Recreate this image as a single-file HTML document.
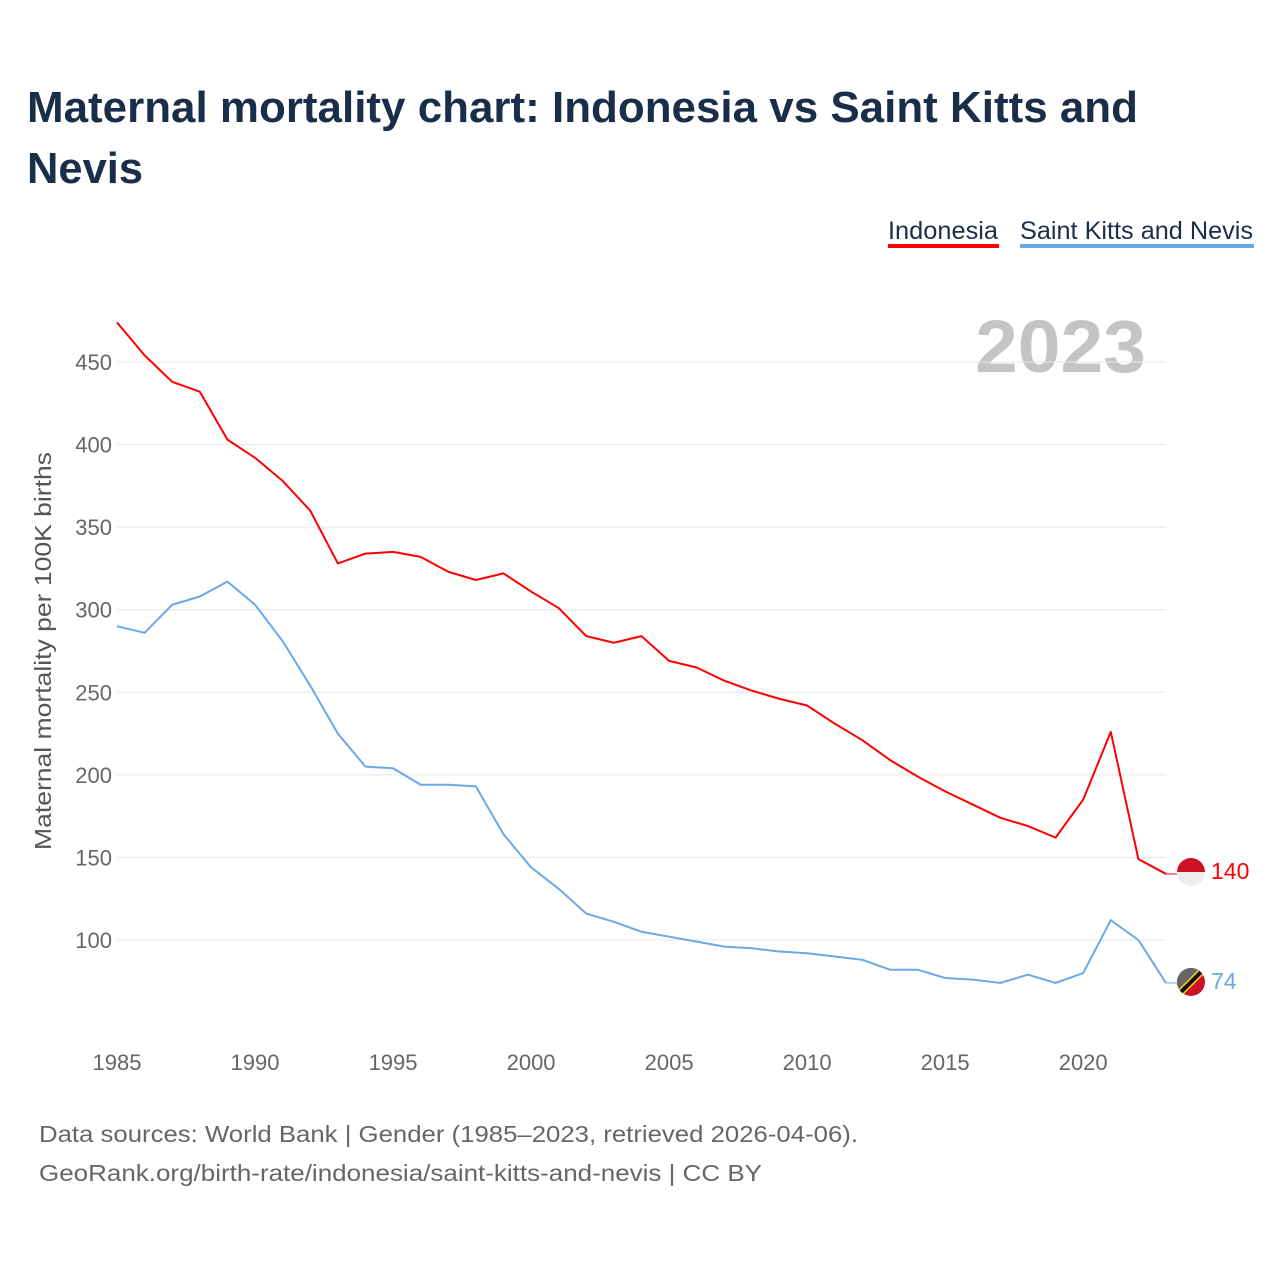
<!DOCTYPE html>
<html><head><meta charset="utf-8">
<style>
body{margin:0;background:#fff;font-family:"Liberation Sans",sans-serif;}
svg text{font-family:"Liberation Sans",sans-serif;}
</style></head>
<body>
<svg width="1280" height="1280" viewBox="0 0 1280 1280" xmlns="http://www.w3.org/2000/svg">
<text x="27" y="122" font-size="44" font-weight="bold" fill="#1a2e4a" textLength="1111" lengthAdjust="spacingAndGlyphs">Maternal mortality chart: Indonesia vs Saint Kitts and</text>
<text x="27" y="183" font-size="44" font-weight="bold" fill="#1a2e4a" textLength="116" lengthAdjust="spacingAndGlyphs">Nevis</text>
<g>
<text x="888" y="239" font-size="25" fill="#1a2e4a" textLength="110" lengthAdjust="spacingAndGlyphs">Indonesia</text>
<rect x="888" y="244" width="111" height="4" fill="#ff0000"/>
</g>
<g>
<text x="1020" y="239" font-size="25" fill="#1a2e4a" textLength="233" lengthAdjust="spacingAndGlyphs">Saint Kitts and Nevis</text>
<rect x="1020" y="244" width="234" height="4" fill="#6aa8e8"/>
</g>
<text x="975" y="372" font-size="74" font-weight="bold" fill="#c4c4c4" textLength="171" lengthAdjust="spacingAndGlyphs">2023</text>
<g id="grid"></g>
<g id="yt"></g>
<g id="xt"></g>
<text transform="translate(51,651) rotate(-90)" font-size="23" fill="#555" text-anchor="middle" textLength="398" lengthAdjust="spacingAndGlyphs">Maternal mortality per 100K births</text>
<g id="series"></g>
<g>
<clipPath id="c1"><circle cx="1191" cy="872" r="14"/></clipPath>
<rect x="1177" y="858" width="28" height="14" fill="#ce1126" clip-path="url(#c1)"/>
<rect x="1177" y="872" width="28" height="14" fill="#eee" clip-path="url(#c1)"/>
<text x="1211" y="879" font-size="23" fill="#ff0000">140</text>
</g>
<g>
<clipPath id="c2"><circle cx="1191" cy="982" r="14"/></clipPath>
<rect x="1177" y="968" width="28" height="28" fill="#ce1126" clip-path="url(#c2)"/>
<polygon points="1177,968 1205,968 1177,996" fill="#666" clip-path="url(#c2)"/>
<line x1="1177" y1="996" x2="1205" y2="968" stroke="#fcd116" stroke-width="7" clip-path="url(#c2)"/>
<line x1="1177" y1="996" x2="1205" y2="968" stroke="#111" stroke-width="4" clip-path="url(#c2)"/>
<text x="1211" y="989" font-size="23" fill="#6aa8e8">74</text>
</g>
<text x="39" y="1142" font-size="23" fill="#666" textLength="819" lengthAdjust="spacingAndGlyphs">Data sources: World Bank | Gender (1985–2023, retrieved 2026-04-06).</text>
<text x="39" y="1181" font-size="23" fill="#666" textLength="723" lengthAdjust="spacingAndGlyphs">GeoRank.org/birth-rate/indonesia/saint-kitts-and-nevis | CC BY</text>
</svg>
<script>
const years=[];for(let y=1985;y<=2023;y++)years.push(y);
const indonesia=[474,454,438,432,403,392,378,360,328,334,335,332,323,318,322,311,301,284,280,284,269,265,257,251,246,242,231,221,209,199,190,182,174,169,162,185,226,149,140];
const saintKitts=[290,286,303,308,317,303,281,254,225,205,204,194,194,193,164,144,131,116,111,105,102,99,96,95,93,92,90,88,82,82,77,76,74,79,74,80,112,100,74];
const yTicks=[100,150,200,250,300,350,400,450];
const xTicks=[1985,1990,1995,2000,2005,2010,2015,2020];
const NS="http://www.w3.org/2000/svg";
const xs=v=>117+(v-1985)*(1166-117)/38;
const ys=v=>940-(v-100)*(578/350);
function mk(tag,attrs,parent){const e=document.createElementNS(NS,tag);for(const k in attrs)e.setAttribute(k,attrs[k]);parent.appendChild(e);return e;}
const grid=document.getElementById('grid'),yt=document.getElementById('yt'),xt=document.getElementById('xt'),ser=document.getElementById('series');
yTicks.forEach(t=>{
 const l=mk('line',{x1:117,x2:1166,y1:ys(t),y2:ys(t),stroke:'#e6e6e6','stroke-width':1},grid);
 
 
 const tx=mk('text',{x:112,y:ys(t)+8,'font-size':22,fill:'#666','text-anchor':'end'},yt);
 tx.textContent=t;
 
 
});
xTicks.forEach(t=>{
 const tx=mk('text',{x:xs(t),y:1070,'font-size':22,fill:'#666','text-anchor':'middle'},xt);
 tx.textContent=t;
 
 
});
function line(vals,color,name){
 const p=mk('polyline',{points:vals.map((v,i)=>xs(years[i])+','+ys(v)).join(' '),fill:'none',stroke:color,'stroke-width':2,'stroke-linejoin':'round'},ser);
 
 
 mk('line',{x1:xs(2023),x2:1177,y1:ys(vals[vals.length-1]),y2:ys(vals[vals.length-1]),stroke:color,'stroke-width':1},ser);
}
line(saintKitts,'#6aa8e8','saint-kitts-line');
line(indonesia,'#ff0000','indonesia-line');
</script>
</body></html>
